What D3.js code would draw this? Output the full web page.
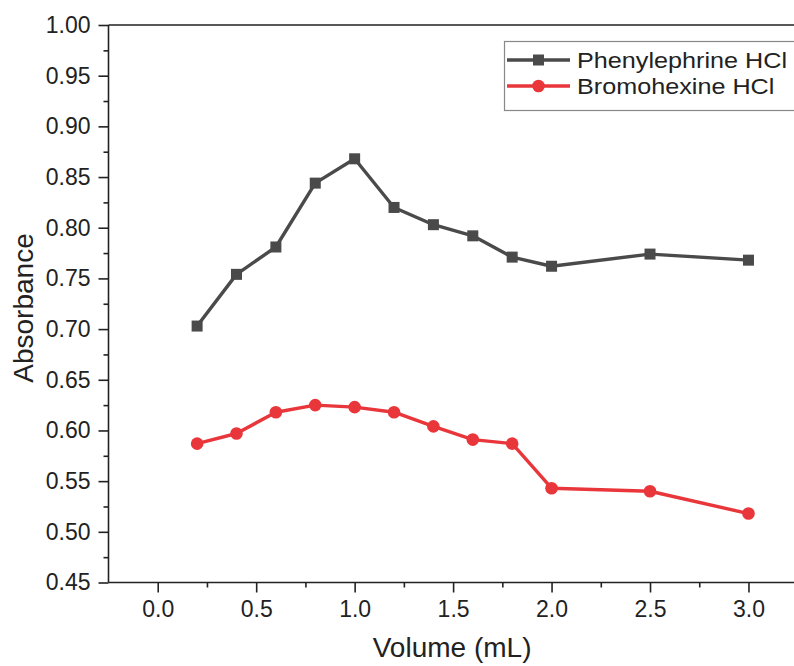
<!DOCTYPE html>
<html>
<head>
<meta charset="utf-8">
<script src="https://cdn.jsdelivr.net/npm/d3@7"></script>
<style>
  html, body { margin: 0; padding: 0; background: #fff; overflow: hidden; }
  svg { display: block; font-family: "Liberation Sans", Arial, sans-serif; }
</style>
</head>
<body>
<svg id="chart" width="794" height="666"></svg>
<script>
// Volume of reagent added (mL)
const volumes = [0.2, 0.4, 0.6, 0.8, 1.0, 1.2, 1.4, 1.6, 1.8, 2.0, 2.5, 3.0];
// Absorbance readings for each drug
const phenylephrine = [0.703, 0.754, 0.781, 0.844, 0.868, 0.820, 0.803, 0.792, 0.771, 0.762, 0.774, 0.768];
const bromohexine   = [0.587, 0.597, 0.618, 0.625, 0.623, 0.618, 0.604, 0.591, 0.587, 0.543, 0.540, 0.518];
const seriesNames = ["Phenylephrine HCl", "Bromohexine HCl"];
const xTicks = [0.0, 0.5, 1.0, 1.5, 2.0, 2.5, 3.0];
const yTicks = [0.45, 0.50, 0.55, 0.60, 0.65, 0.70, 0.75, 0.80, 0.85, 0.90, 0.95, 1.00];

const svg = d3.select("#chart");
const plotL = 108.5, plotR = 797.7, plotT = 25, plotB = 582.5;
const ink = "#222";

const x = d3.scaleLinear().domain([-0.25, 3.25]).range([plotL, plotR]);
const y = d3.scaleLinear().domain([0.45, 1.00]).range([plotB, plotT]);

// frame (top and right edges)
svg.append("path")
  .attr("d", `M${plotL},${plotT}H${plotR}V${plotB}`)
  .attr("fill", "none").attr("stroke", ink).attr("stroke-width", 1.6);

// x axis with minor ticks
const xMinor = d3.range(0.25, 3.25, 0.5);
const gx = svg.append("g").attr("transform", `translate(0,${plotB})`);
gx.call(d3.axisBottom(x).tickValues(xMinor).tickSize(5).tickFormat(""));
gx.append("g").call(d3.axisBottom(x).tickValues(xTicks).tickSize(10).tickPadding(8)
  .tickFormat(d3.format(".1f")));
gx.selectAll(".domain").remove();
gx.append("line").attr("x1", plotL).attr("x2", plotR).attr("stroke", ink).attr("stroke-width", 1.6);

// y axis with minor ticks
const yMinor = d3.range(0.475, 1.0, 0.05);
const gy = svg.append("g").attr("transform", `translate(${plotL},0)`);
gy.call(d3.axisLeft(y).tickValues(yMinor).tickSize(5).tickFormat(""));
gy.append("g").call(d3.axisLeft(y).tickValues(yTicks).tickSize(10).tickPadding(8)
  .tickFormat(d3.format(".2f")));
gy.selectAll(".domain").remove();
gy.append("line").attr("y1", plotT).attr("y2", plotB).attr("stroke", ink).attr("stroke-width", 1.6);

svg.selectAll(".tick line").attr("stroke", ink).attr("stroke-width", 1.6);
svg.selectAll(".tick text").attr("font-size", 23).attr("fill", ink)
  .attr("font-family", "Liberation Sans, Arial, sans-serif");

// axis titles
svg.append("text").attr("x", (plotL + plotR) / 2 - 1).attr("y", 657)
  .attr("text-anchor", "middle").attr("font-size", 28).attr("fill", ink)
  .text("Volume (mL)");
svg.append("text")
  .attr("transform", `translate(33,308) rotate(-90)`)
  .attr("text-anchor", "middle").attr("font-size", 28).attr("fill", ink)
  .text("Absorbance");

// series
const series = [
  { name: seriesNames[0], values: phenylephrine, color: "#4a4a4a", marker: "square" },
  { name: seriesNames[1], values: bromohexine, color: "#e8363b", marker: "circle" }
];
const line = d3.line().x(d => x(d[0])).y(d => y(d[1]));

function drawMarker(g, type, cx, cy, color) {
  if (type === "square") {
    g.append("rect").attr("x", cx - 5.5).attr("y", cy - 5.5)
      .attr("width", 11).attr("height", 11).attr("fill", color);
  } else {
    g.append("circle").attr("cx", cx).attr("cy", cy).attr("r", 6.3).attr("fill", color);
  }
}

series.forEach(s => {
  const pts = volumes.map((v, i) => [v, s.values[i]]);
  svg.append("path").datum(pts).attr("d", line)
    .attr("fill", "none").attr("stroke", s.color).attr("stroke-width", 3.4)
    .attr("stroke-linejoin", "round");
  const g = svg.append("g");
  pts.forEach(p => drawMarker(g, s.marker, x(p[0]), y(p[1]), s.color));
});

// legend
const lg = svg.append("g");
lg.append("rect").attr("x", 504.5).attr("y", 41.5).attr("width", 310).attr("height", 69)
  .attr("fill", "#fff").attr("stroke", "#888").attr("stroke-width", 1.2);
series.forEach((s, i) => {
  const cy = 60 + i * 26;
  lg.append("line").attr("x1", 507).attr("x2", 570).attr("y1", cy).attr("y2", cy)
    .attr("stroke", s.color).attr("stroke-width", 3.4);
  drawMarker(lg, s.marker, 538.5, cy, s.color);
  lg.append("text").attr("transform", `translate(577,${cy + 8}) scale(1.12,1)`)
    .attr("font-size", 22.5).attr("fill", ink).text(s.name);
});
</script>
</body>
</html>
